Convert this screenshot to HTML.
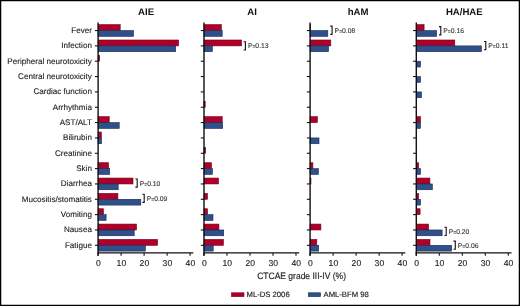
<!DOCTYPE html>
<html><head><meta charset="utf-8"><title>CTCAE grade III-IV toxicities</title>
<style>
html,body{margin:0;padding:0;background:#fff;}
svg{display:block;will-change:transform;}
text{font-family:"Liberation Sans",sans-serif;fill:#222;text-rendering:geometricPrecision;}
.yl{font-size:8.1px;stroke:#222;stroke-width:0.12px;}
.xl{font-size:8.6px;stroke:#222;stroke-width:0.12px;}
.tt{font-size:9.6px;font-weight:bold;fill:#111;}
.pv{font-size:6.8px;fill:#333;stroke:#333;stroke-width:0.1px;}
.eq{font-size:5px;}
.at{font-size:9.3px;stroke:#222;stroke-width:0.15px;}
.lg{font-size:7.7px;stroke:#222;stroke-width:0.15px;}
</style></head>
<body>
<svg width="520" height="306" viewBox="0 0 520 306">
<rect x="0" y="0" width="520" height="306" fill="#fff"/>
<text x="91.9" y="33.05" text-anchor="end" class="yl">Fever</text>
<text x="91.9" y="48.39" text-anchor="end" class="yl">Infection</text>
<text x="91.9" y="63.73" text-anchor="end" class="yl">Peripheral neurotoxicity</text>
<text x="91.9" y="79.07" text-anchor="end" class="yl">Central neurotoxicity</text>
<text x="91.9" y="94.41" text-anchor="end" class="yl">Cardiac function</text>
<text x="91.9" y="109.75" text-anchor="end" class="yl">Arrhythmia</text>
<text x="91.9" y="125.09" text-anchor="end" class="yl">AST/ALT</text>
<text x="91.9" y="140.43" text-anchor="end" class="yl">Bilirubin</text>
<text x="91.9" y="155.77" text-anchor="end" class="yl">Creatinine</text>
<text x="91.9" y="171.11" text-anchor="end" class="yl">Skin</text>
<text x="91.9" y="186.45" text-anchor="end" class="yl">Diarrhea</text>
<text x="91.9" y="201.79" text-anchor="end" class="yl">Mucositis/stomatitis</text>
<text x="91.9" y="217.13" text-anchor="end" class="yl">Vomiting</text>
<text x="91.9" y="232.47" text-anchor="end" class="yl">Nausea</text>
<text x="91.9" y="247.81" text-anchor="end" class="yl">Fatigue</text>
<rect x="98.10" y="24.65" width="22.10" height="5.90" fill="#b0002a" stroke="#6e0018" stroke-width="0.6"/>
<rect x="98.10" y="30.55" width="35.40" height="5.80" fill="#30508c" stroke="#18284f" stroke-width="0.6"/>
<rect x="98.10" y="39.99" width="80.50" height="5.90" fill="#b0002a" stroke="#6e0018" stroke-width="0.6"/>
<rect x="98.10" y="45.89" width="77.60" height="5.80" fill="#30508c" stroke="#18284f" stroke-width="0.6"/>
<rect x="98.10" y="55.33" width="1.50" height="5.90" fill="#6e0018" stroke="#6e0018" stroke-width="0.6"/>
<rect x="98.10" y="116.69" width="11.10" height="5.90" fill="#b0002a" stroke="#6e0018" stroke-width="0.6"/>
<rect x="98.10" y="122.59" width="21.10" height="5.80" fill="#30508c" stroke="#18284f" stroke-width="0.6"/>
<rect x="98.10" y="132.03" width="3.20" height="5.90" fill="#b0002a" stroke="#6e0018" stroke-width="0.6"/>
<rect x="98.10" y="137.93" width="3.50" height="5.80" fill="#30508c" stroke="#18284f" stroke-width="0.6"/>
<rect x="98.10" y="162.71" width="10.50" height="5.90" fill="#b0002a" stroke="#6e0018" stroke-width="0.6"/>
<rect x="98.10" y="168.61" width="11.60" height="5.80" fill="#30508c" stroke="#18284f" stroke-width="0.6"/>
<rect x="98.10" y="178.05" width="34.90" height="5.90" fill="#b0002a" stroke="#6e0018" stroke-width="0.6"/>
<rect x="98.10" y="183.95" width="20.10" height="5.80" fill="#30508c" stroke="#18284f" stroke-width="0.6"/>
<rect x="98.10" y="193.39" width="19.80" height="5.90" fill="#b0002a" stroke="#6e0018" stroke-width="0.6"/>
<rect x="98.10" y="199.29" width="42.70" height="5.80" fill="#30508c" stroke="#18284f" stroke-width="0.6"/>
<rect x="98.10" y="208.73" width="5.40" height="5.90" fill="#b0002a" stroke="#6e0018" stroke-width="0.6"/>
<rect x="98.10" y="214.63" width="8.00" height="5.80" fill="#30508c" stroke="#18284f" stroke-width="0.6"/>
<rect x="98.10" y="224.07" width="38.40" height="5.90" fill="#b0002a" stroke="#6e0018" stroke-width="0.6"/>
<rect x="98.10" y="229.97" width="36.10" height="5.80" fill="#30508c" stroke="#18284f" stroke-width="0.6"/>
<rect x="98.10" y="239.41" width="59.50" height="5.90" fill="#b0002a" stroke="#6e0018" stroke-width="0.6"/>
<rect x="98.10" y="245.31" width="47.20" height="5.80" fill="#30508c" stroke="#18284f" stroke-width="0.6"/>
<line x1="98.10" y1="22.5" x2="98.10" y2="255.7" stroke="#111" stroke-width="1.4"/>
<line x1="94.90" y1="30.55" x2="98.10" y2="30.55" stroke="#111" stroke-width="1.1"/>
<line x1="94.90" y1="45.89" x2="98.10" y2="45.89" stroke="#111" stroke-width="1.1"/>
<line x1="94.90" y1="61.23" x2="98.10" y2="61.23" stroke="#111" stroke-width="1.1"/>
<line x1="94.90" y1="76.57" x2="98.10" y2="76.57" stroke="#111" stroke-width="1.1"/>
<line x1="94.90" y1="91.91" x2="98.10" y2="91.91" stroke="#111" stroke-width="1.1"/>
<line x1="94.90" y1="107.25" x2="98.10" y2="107.25" stroke="#111" stroke-width="1.1"/>
<line x1="94.90" y1="122.59" x2="98.10" y2="122.59" stroke="#111" stroke-width="1.1"/>
<line x1="94.90" y1="137.93" x2="98.10" y2="137.93" stroke="#111" stroke-width="1.1"/>
<line x1="94.90" y1="153.27" x2="98.10" y2="153.27" stroke="#111" stroke-width="1.1"/>
<line x1="94.90" y1="168.61" x2="98.10" y2="168.61" stroke="#111" stroke-width="1.1"/>
<line x1="94.90" y1="183.95" x2="98.10" y2="183.95" stroke="#111" stroke-width="1.1"/>
<line x1="94.90" y1="199.29" x2="98.10" y2="199.29" stroke="#111" stroke-width="1.1"/>
<line x1="94.90" y1="214.63" x2="98.10" y2="214.63" stroke="#111" stroke-width="1.1"/>
<line x1="94.90" y1="229.97" x2="98.10" y2="229.97" stroke="#111" stroke-width="1.1"/>
<line x1="94.90" y1="245.31" x2="98.10" y2="245.31" stroke="#111" stroke-width="1.1"/>
<line x1="97.40" y1="252.9" x2="193.30" y2="252.9" stroke="#111" stroke-width="1.4"/>
<line x1="98.10" y1="252.9" x2="98.10" y2="255.7" stroke="#111" stroke-width="1.1"/>
<text x="98.40" y="266.1" text-anchor="middle" class="xl">0</text>
<line x1="121.10" y1="252.9" x2="121.10" y2="255.7" stroke="#111" stroke-width="1.1"/>
<text x="121.40" y="266.1" text-anchor="middle" class="xl">10</text>
<line x1="144.10" y1="252.9" x2="144.10" y2="255.7" stroke="#111" stroke-width="1.1"/>
<text x="144.40" y="266.1" text-anchor="middle" class="xl">20</text>
<line x1="167.10" y1="252.9" x2="167.10" y2="255.7" stroke="#111" stroke-width="1.1"/>
<text x="167.40" y="266.1" text-anchor="middle" class="xl">30</text>
<line x1="190.10" y1="252.9" x2="190.10" y2="255.7" stroke="#111" stroke-width="1.1"/>
<text x="190.40" y="266.1" text-anchor="middle" class="xl">40</text>
<text x="146.10" y="14.7" text-anchor="middle" class="tt">AIE</text>
<rect x="204.00" y="24.65" width="17.30" height="5.90" fill="#b0002a" stroke="#6e0018" stroke-width="0.6"/>
<rect x="204.00" y="30.55" width="18.20" height="5.80" fill="#30508c" stroke="#18284f" stroke-width="0.6"/>
<rect x="204.00" y="39.99" width="37.50" height="5.90" fill="#b0002a" stroke="#6e0018" stroke-width="0.6"/>
<rect x="204.00" y="45.89" width="8.40" height="5.80" fill="#30508c" stroke="#18284f" stroke-width="0.6"/>
<rect x="204.00" y="101.35" width="1.20" height="5.90" fill="#6e0018" stroke="#6e0018" stroke-width="0.6"/>
<rect x="204.00" y="116.69" width="18.20" height="5.90" fill="#b0002a" stroke="#6e0018" stroke-width="0.6"/>
<rect x="204.00" y="122.59" width="18.70" height="5.80" fill="#30508c" stroke="#18284f" stroke-width="0.6"/>
<rect x="204.00" y="147.37" width="1.60" height="5.90" fill="#6e0018" stroke="#6e0018" stroke-width="0.6"/>
<rect x="204.00" y="162.71" width="7.50" height="5.90" fill="#b0002a" stroke="#6e0018" stroke-width="0.6"/>
<rect x="204.00" y="168.61" width="8.40" height="5.80" fill="#30508c" stroke="#18284f" stroke-width="0.6"/>
<rect x="204.00" y="178.05" width="14.50" height="5.90" fill="#b0002a" stroke="#6e0018" stroke-width="0.6"/>
<rect x="204.00" y="193.39" width="3.50" height="5.90" fill="#b0002a" stroke="#6e0018" stroke-width="0.6"/>
<rect x="204.00" y="208.73" width="3.50" height="5.90" fill="#b0002a" stroke="#6e0018" stroke-width="0.6"/>
<rect x="204.00" y="214.63" width="9.00" height="5.80" fill="#30508c" stroke="#18284f" stroke-width="0.6"/>
<rect x="204.00" y="224.07" width="14.90" height="5.90" fill="#b0002a" stroke="#6e0018" stroke-width="0.6"/>
<rect x="204.00" y="229.97" width="19.70" height="5.80" fill="#30508c" stroke="#18284f" stroke-width="0.6"/>
<rect x="204.00" y="239.41" width="19.40" height="5.90" fill="#b0002a" stroke="#6e0018" stroke-width="0.6"/>
<rect x="204.00" y="245.31" width="9.20" height="5.80" fill="#30508c" stroke="#18284f" stroke-width="0.6"/>
<line x1="204.00" y1="22.5" x2="204.00" y2="255.7" stroke="#111" stroke-width="1.4"/>
<line x1="200.80" y1="30.55" x2="204.00" y2="30.55" stroke="#111" stroke-width="1.1"/>
<line x1="200.80" y1="45.89" x2="204.00" y2="45.89" stroke="#111" stroke-width="1.1"/>
<line x1="200.80" y1="61.23" x2="204.00" y2="61.23" stroke="#111" stroke-width="1.1"/>
<line x1="200.80" y1="76.57" x2="204.00" y2="76.57" stroke="#111" stroke-width="1.1"/>
<line x1="200.80" y1="91.91" x2="204.00" y2="91.91" stroke="#111" stroke-width="1.1"/>
<line x1="200.80" y1="107.25" x2="204.00" y2="107.25" stroke="#111" stroke-width="1.1"/>
<line x1="200.80" y1="122.59" x2="204.00" y2="122.59" stroke="#111" stroke-width="1.1"/>
<line x1="200.80" y1="137.93" x2="204.00" y2="137.93" stroke="#111" stroke-width="1.1"/>
<line x1="200.80" y1="153.27" x2="204.00" y2="153.27" stroke="#111" stroke-width="1.1"/>
<line x1="200.80" y1="168.61" x2="204.00" y2="168.61" stroke="#111" stroke-width="1.1"/>
<line x1="200.80" y1="183.95" x2="204.00" y2="183.95" stroke="#111" stroke-width="1.1"/>
<line x1="200.80" y1="199.29" x2="204.00" y2="199.29" stroke="#111" stroke-width="1.1"/>
<line x1="200.80" y1="214.63" x2="204.00" y2="214.63" stroke="#111" stroke-width="1.1"/>
<line x1="200.80" y1="229.97" x2="204.00" y2="229.97" stroke="#111" stroke-width="1.1"/>
<line x1="200.80" y1="245.31" x2="204.00" y2="245.31" stroke="#111" stroke-width="1.1"/>
<line x1="203.30" y1="252.9" x2="299.20" y2="252.9" stroke="#111" stroke-width="1.4"/>
<line x1="204.00" y1="252.9" x2="204.00" y2="255.7" stroke="#111" stroke-width="1.1"/>
<text x="204.30" y="266.1" text-anchor="middle" class="xl">0</text>
<line x1="227.00" y1="252.9" x2="227.00" y2="255.7" stroke="#111" stroke-width="1.1"/>
<text x="227.30" y="266.1" text-anchor="middle" class="xl">10</text>
<line x1="250.00" y1="252.9" x2="250.00" y2="255.7" stroke="#111" stroke-width="1.1"/>
<text x="250.30" y="266.1" text-anchor="middle" class="xl">20</text>
<line x1="273.00" y1="252.9" x2="273.00" y2="255.7" stroke="#111" stroke-width="1.1"/>
<text x="273.30" y="266.1" text-anchor="middle" class="xl">30</text>
<line x1="296.00" y1="252.9" x2="296.00" y2="255.7" stroke="#111" stroke-width="1.1"/>
<text x="296.30" y="266.1" text-anchor="middle" class="xl">40</text>
<text x="252.00" y="14.7" text-anchor="middle" class="tt">AI</text>
<rect x="310.10" y="24.65" width="0.60" height="5.90" fill="#6e0018" stroke="#6e0018" stroke-width="0.6"/>
<rect x="310.10" y="30.55" width="17.70" height="5.80" fill="#30508c" stroke="#18284f" stroke-width="0.6"/>
<rect x="310.10" y="39.99" width="20.70" height="5.90" fill="#b0002a" stroke="#6e0018" stroke-width="0.6"/>
<rect x="310.10" y="45.89" width="18.50" height="5.80" fill="#30508c" stroke="#18284f" stroke-width="0.6"/>
<rect x="310.10" y="116.69" width="7.30" height="5.90" fill="#b0002a" stroke="#6e0018" stroke-width="0.6"/>
<rect x="310.10" y="137.93" width="8.90" height="5.80" fill="#30508c" stroke="#18284f" stroke-width="0.6"/>
<rect x="310.10" y="162.71" width="2.80" height="5.90" fill="#b0002a" stroke="#6e0018" stroke-width="0.6"/>
<rect x="310.10" y="168.61" width="8.30" height="5.80" fill="#30508c" stroke="#18284f" stroke-width="0.6"/>
<rect x="310.10" y="178.05" width="0.90" height="5.90" fill="#6e0018" stroke="#6e0018" stroke-width="0.6"/>
<rect x="310.10" y="224.07" width="10.80" height="5.90" fill="#b0002a" stroke="#6e0018" stroke-width="0.6"/>
<rect x="310.10" y="239.41" width="6.70" height="5.90" fill="#b0002a" stroke="#6e0018" stroke-width="0.6"/>
<rect x="310.10" y="245.31" width="8.60" height="5.80" fill="#30508c" stroke="#18284f" stroke-width="0.6"/>
<line x1="310.10" y1="22.5" x2="310.10" y2="255.7" stroke="#111" stroke-width="1.4"/>
<line x1="306.90" y1="30.55" x2="310.10" y2="30.55" stroke="#111" stroke-width="1.1"/>
<line x1="306.90" y1="45.89" x2="310.10" y2="45.89" stroke="#111" stroke-width="1.1"/>
<line x1="306.90" y1="61.23" x2="310.10" y2="61.23" stroke="#111" stroke-width="1.1"/>
<line x1="306.90" y1="76.57" x2="310.10" y2="76.57" stroke="#111" stroke-width="1.1"/>
<line x1="306.90" y1="91.91" x2="310.10" y2="91.91" stroke="#111" stroke-width="1.1"/>
<line x1="306.90" y1="107.25" x2="310.10" y2="107.25" stroke="#111" stroke-width="1.1"/>
<line x1="306.90" y1="122.59" x2="310.10" y2="122.59" stroke="#111" stroke-width="1.1"/>
<line x1="306.90" y1="137.93" x2="310.10" y2="137.93" stroke="#111" stroke-width="1.1"/>
<line x1="306.90" y1="153.27" x2="310.10" y2="153.27" stroke="#111" stroke-width="1.1"/>
<line x1="306.90" y1="168.61" x2="310.10" y2="168.61" stroke="#111" stroke-width="1.1"/>
<line x1="306.90" y1="183.95" x2="310.10" y2="183.95" stroke="#111" stroke-width="1.1"/>
<line x1="306.90" y1="199.29" x2="310.10" y2="199.29" stroke="#111" stroke-width="1.1"/>
<line x1="306.90" y1="214.63" x2="310.10" y2="214.63" stroke="#111" stroke-width="1.1"/>
<line x1="306.90" y1="229.97" x2="310.10" y2="229.97" stroke="#111" stroke-width="1.1"/>
<line x1="306.90" y1="245.31" x2="310.10" y2="245.31" stroke="#111" stroke-width="1.1"/>
<line x1="309.40" y1="252.9" x2="405.30" y2="252.9" stroke="#111" stroke-width="1.4"/>
<line x1="310.10" y1="252.9" x2="310.10" y2="255.7" stroke="#111" stroke-width="1.1"/>
<text x="310.40" y="266.1" text-anchor="middle" class="xl">0</text>
<line x1="333.10" y1="252.9" x2="333.10" y2="255.7" stroke="#111" stroke-width="1.1"/>
<text x="333.40" y="266.1" text-anchor="middle" class="xl">10</text>
<line x1="356.10" y1="252.9" x2="356.10" y2="255.7" stroke="#111" stroke-width="1.1"/>
<text x="356.40" y="266.1" text-anchor="middle" class="xl">20</text>
<line x1="379.10" y1="252.9" x2="379.10" y2="255.7" stroke="#111" stroke-width="1.1"/>
<text x="379.40" y="266.1" text-anchor="middle" class="xl">30</text>
<line x1="402.10" y1="252.9" x2="402.10" y2="255.7" stroke="#111" stroke-width="1.1"/>
<text x="402.40" y="266.1" text-anchor="middle" class="xl">40</text>
<text x="358.10" y="14.7" text-anchor="middle" class="tt">hAM</text>
<rect x="416.30" y="24.65" width="7.80" height="5.90" fill="#b0002a" stroke="#6e0018" stroke-width="0.6"/>
<rect x="416.30" y="30.55" width="20.30" height="5.80" fill="#30508c" stroke="#18284f" stroke-width="0.6"/>
<rect x="416.30" y="39.99" width="38.50" height="5.90" fill="#b0002a" stroke="#6e0018" stroke-width="0.6"/>
<rect x="416.30" y="45.89" width="65.20" height="5.80" fill="#30508c" stroke="#18284f" stroke-width="0.6"/>
<rect x="416.30" y="61.23" width="4.20" height="5.80" fill="#30508c" stroke="#18284f" stroke-width="0.6"/>
<rect x="416.30" y="76.57" width="4.20" height="5.80" fill="#30508c" stroke="#18284f" stroke-width="0.6"/>
<rect x="416.30" y="91.91" width="5.20" height="5.80" fill="#30508c" stroke="#18284f" stroke-width="0.6"/>
<rect x="416.30" y="116.69" width="4.20" height="5.90" fill="#b0002a" stroke="#6e0018" stroke-width="0.6"/>
<rect x="416.30" y="122.59" width="4.20" height="5.80" fill="#30508c" stroke="#18284f" stroke-width="0.6"/>
<rect x="416.30" y="162.71" width="2.30" height="5.90" fill="#b0002a" stroke="#6e0018" stroke-width="0.6"/>
<rect x="416.30" y="168.61" width="4.20" height="5.80" fill="#30508c" stroke="#18284f" stroke-width="0.6"/>
<rect x="416.30" y="178.05" width="13.60" height="5.90" fill="#b0002a" stroke="#6e0018" stroke-width="0.6"/>
<rect x="416.30" y="183.95" width="16.00" height="5.80" fill="#30508c" stroke="#18284f" stroke-width="0.6"/>
<rect x="416.30" y="193.39" width="2.30" height="5.90" fill="#b0002a" stroke="#6e0018" stroke-width="0.6"/>
<rect x="416.30" y="199.29" width="4.20" height="5.80" fill="#30508c" stroke="#18284f" stroke-width="0.6"/>
<rect x="416.30" y="208.73" width="3.80" height="5.90" fill="#b0002a" stroke="#6e0018" stroke-width="0.6"/>
<rect x="416.30" y="224.07" width="12.30" height="5.90" fill="#b0002a" stroke="#6e0018" stroke-width="0.6"/>
<rect x="416.30" y="229.97" width="25.80" height="5.80" fill="#30508c" stroke="#18284f" stroke-width="0.6"/>
<rect x="416.30" y="239.41" width="13.70" height="5.90" fill="#b0002a" stroke="#6e0018" stroke-width="0.6"/>
<rect x="416.30" y="245.31" width="35.40" height="5.80" fill="#30508c" stroke="#18284f" stroke-width="0.6"/>
<line x1="416.30" y1="22.5" x2="416.30" y2="255.7" stroke="#111" stroke-width="1.4"/>
<line x1="413.10" y1="30.55" x2="416.30" y2="30.55" stroke="#111" stroke-width="1.1"/>
<line x1="413.10" y1="45.89" x2="416.30" y2="45.89" stroke="#111" stroke-width="1.1"/>
<line x1="413.10" y1="61.23" x2="416.30" y2="61.23" stroke="#111" stroke-width="1.1"/>
<line x1="413.10" y1="76.57" x2="416.30" y2="76.57" stroke="#111" stroke-width="1.1"/>
<line x1="413.10" y1="91.91" x2="416.30" y2="91.91" stroke="#111" stroke-width="1.1"/>
<line x1="413.10" y1="107.25" x2="416.30" y2="107.25" stroke="#111" stroke-width="1.1"/>
<line x1="413.10" y1="122.59" x2="416.30" y2="122.59" stroke="#111" stroke-width="1.1"/>
<line x1="413.10" y1="137.93" x2="416.30" y2="137.93" stroke="#111" stroke-width="1.1"/>
<line x1="413.10" y1="153.27" x2="416.30" y2="153.27" stroke="#111" stroke-width="1.1"/>
<line x1="413.10" y1="168.61" x2="416.30" y2="168.61" stroke="#111" stroke-width="1.1"/>
<line x1="413.10" y1="183.95" x2="416.30" y2="183.95" stroke="#111" stroke-width="1.1"/>
<line x1="413.10" y1="199.29" x2="416.30" y2="199.29" stroke="#111" stroke-width="1.1"/>
<line x1="413.10" y1="214.63" x2="416.30" y2="214.63" stroke="#111" stroke-width="1.1"/>
<line x1="413.10" y1="229.97" x2="416.30" y2="229.97" stroke="#111" stroke-width="1.1"/>
<line x1="413.10" y1="245.31" x2="416.30" y2="245.31" stroke="#111" stroke-width="1.1"/>
<line x1="415.60" y1="252.9" x2="511.50" y2="252.9" stroke="#111" stroke-width="1.4"/>
<line x1="416.30" y1="252.9" x2="416.30" y2="255.7" stroke="#111" stroke-width="1.1"/>
<text x="416.60" y="266.1" text-anchor="middle" class="xl">0</text>
<line x1="439.30" y1="252.9" x2="439.30" y2="255.7" stroke="#111" stroke-width="1.1"/>
<text x="439.60" y="266.1" text-anchor="middle" class="xl">10</text>
<line x1="462.30" y1="252.9" x2="462.30" y2="255.7" stroke="#111" stroke-width="1.1"/>
<text x="462.60" y="266.1" text-anchor="middle" class="xl">20</text>
<line x1="485.30" y1="252.9" x2="485.30" y2="255.7" stroke="#111" stroke-width="1.1"/>
<text x="485.60" y="266.1" text-anchor="middle" class="xl">30</text>
<line x1="508.30" y1="252.9" x2="508.30" y2="255.7" stroke="#111" stroke-width="1.1"/>
<text x="508.60" y="266.1" text-anchor="middle" class="xl">40</text>
<text x="464.30" y="14.7" text-anchor="middle" class="tt">HA/HAE</text>
<path d="M135.40 178.95H137.20V187.15H135.40" fill="none" stroke="#111" stroke-width="1.1"/>
<text x="139.70" y="185.65" class="pv">P<tspan class="eq">=</tspan>0.10</text>
<path d="M142.40 194.19H144.20V202.39H142.40" fill="none" stroke="#111" stroke-width="1.1"/>
<text x="146.70" y="200.89" class="pv">P<tspan class="eq">=</tspan>0.09</text>
<path d="M243.60 41.79H245.40V49.99H243.60" fill="none" stroke="#111" stroke-width="1.1"/>
<text x="247.90" y="48.49" class="pv">P<tspan class="eq">=</tspan>0.13</text>
<path d="M330.30 26.15H332.10V34.35H330.30" fill="none" stroke="#111" stroke-width="1.1"/>
<text x="334.60" y="32.85" class="pv">P<tspan class="eq">=</tspan>0.08</text>
<path d="M439.00 26.65H440.80V34.85H439.00" fill="none" stroke="#111" stroke-width="1.1"/>
<text x="443.30" y="33.35" class="pv">P<tspan class="eq">=</tspan>0.16</text>
<path d="M484.00 41.49H485.80V49.69H484.00" fill="none" stroke="#111" stroke-width="1.1"/>
<text x="488.30" y="48.19" class="pv">P<tspan class="eq">=</tspan>0.11</text>
<path d="M444.40 227.27H446.20V235.47H444.40" fill="none" stroke="#111" stroke-width="1.1"/>
<text x="448.70" y="233.97" class="pv">P<tspan class="eq">=</tspan>0.20</text>
<path d="M453.50 241.11H455.30V249.31H453.50" fill="none" stroke="#111" stroke-width="1.1"/>
<text x="457.80" y="247.81" class="pv">P<tspan class="eq">=</tspan>0.06</text>
<text x="257.2" y="279.3" textLength="88.8" lengthAdjust="spacingAndGlyphs" class="at">CTCAE grade III-IV (%)</text>
<rect x="231.5" y="292.8" width="12.5" height="3.8" fill="#b0002a" stroke="#6e0018" stroke-width="0.6"/>
<text x="246.5" y="297.1" class="lg">ML-DS 2006</text>
<rect x="308.3" y="292.8" width="12.3" height="3.8" fill="#30508c" stroke="#18284f" stroke-width="0.6"/>
<text x="323.5" y="297.1" class="lg">AML-BFM 98</text>
<rect x="0.6" y="0.6" width="518.8" height="304.8" fill="none" stroke="#000" stroke-width="1.3"/>
</svg>
</body></html>
